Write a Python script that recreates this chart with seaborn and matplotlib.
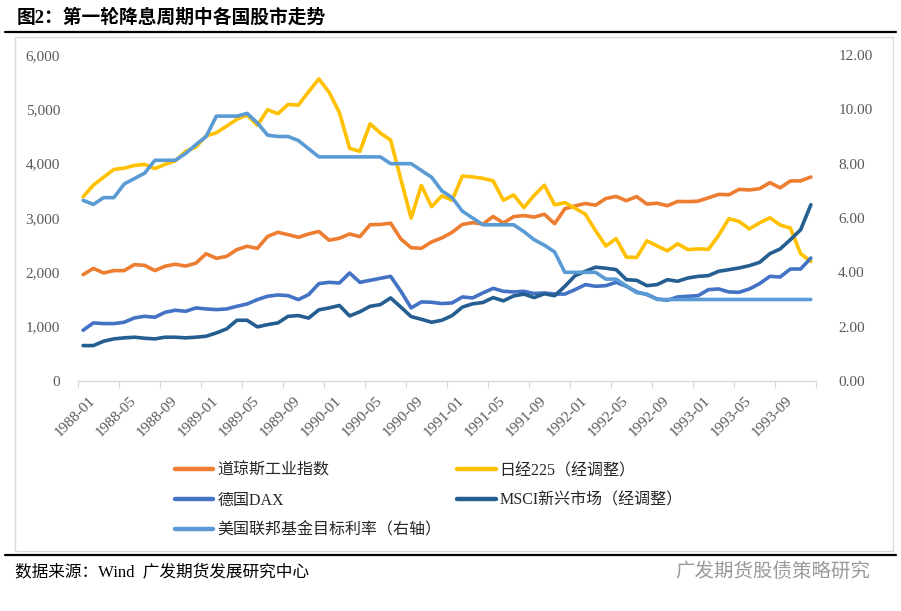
import numpy as np
import pandas as pd
import matplotlib
matplotlib.use("Agg")
import matplotlib.pyplot as plt
import matplotlib.transforms as mtransforms
from matplotlib.patches import Rectangle
from matplotlib.lines import Line2D
import seaborn as sns

sns.set_theme(style="white")
plt.rcParams['font.family'] = ['Liberation Serif', 'Noto Sans CJK SC']

# ---------------------------
# data (monthly, 1988-01 .. 1993-12)
# ---------------------------
months = pd.date_range('1988-01-01', '1993-12-01', freq='MS').strftime('%Y-%m')

dow = [1958, 2072, 1988, 2032, 2031, 2142, 2129, 2032, 2113, 2149, 2115, 2169,
       2342, 2258, 2294, 2419, 2480, 2440, 2661, 2737, 2693, 2645, 2706, 2753,
       2591, 2627, 2707, 2657, 2877, 2881, 2905, 2614, 2453, 2442, 2560, 2634,
       2736, 2882, 2914, 2888, 3028, 2907, 3025, 3044, 3017, 3069, 2895, 3169,
       3224, 3267, 3236, 3359, 3397, 3319, 3394, 3257, 3272, 3226, 3305, 3301,
       3310, 3371, 3435, 3428, 3527, 3516, 3540, 3651, 3555, 3681, 3684, 3754]

nikkei = [3390, 3606, 3751, 3894, 3917, 3967, 3987, 3909, 3989, 4051, 4226, 4308,
          4512, 4569, 4691, 4816, 4895, 4707, 4993, 4919, 5091, 5078, 5324, 5559,
          5313, 4942, 4283, 4226, 4733, 4563, 4434, 3711, 2998, 3599, 3208, 3407,
          3328, 3773, 3756, 3730, 3684, 3327, 3425, 3191, 3417, 3603, 3241, 3283,
          3180, 3070, 2764, 2484, 2621, 2279, 2273, 2580, 2486, 2395, 2526, 2418,
          2432, 2422, 2680, 2988, 2936, 2799, 2911, 3004, 2872, 2815, 2344, 2200]

dax = [934, 1069, 1057, 1057, 1081, 1161, 1191, 1173, 1265, 1302, 1283, 1345,
       1326, 1314, 1326, 1375, 1418, 1498, 1560, 1584, 1571, 1498, 1590, 1792,
       1816, 1804, 1988, 1816, 1853, 1890, 1926, 1651, 1345, 1455, 1449, 1425,
       1437, 1547, 1529, 1621, 1705, 1651, 1639, 1651, 1610, 1621, 1600, 1600,
       1682, 1774, 1743, 1755, 1816, 1743, 1640, 1590, 1510, 1486, 1547, 1559,
       1571, 1681, 1694, 1639, 1633, 1694, 1792, 1926, 1914, 2061, 2061, 2263]

msci = [652, 652, 732, 775, 794, 806, 787, 775, 806, 806, 794, 806,
        824, 885, 959, 1118, 1118, 996, 1038, 1069, 1191, 1204, 1158, 1310,
        1345, 1390, 1198, 1274, 1375, 1406, 1529, 1360, 1185, 1136, 1081, 1118,
        1204, 1360, 1420, 1445, 1535, 1475, 1565, 1600, 1535, 1605, 1570, 1743,
        1939, 2019, 2095, 2075, 2050, 1865, 1853, 1755, 1774, 1865, 1835, 1896,
        1926, 1939, 2019, 2049, 2080, 2123, 2184, 2343, 2430, 2601, 2784, 3244]

fed = [6.65, 6.5, 6.75, 6.75, 7.25, 7.45, 7.65, 8.125, 8.125, 8.125, 8.375, 8.7,
       9.0, 9.75, 9.75, 9.75, 9.85, 9.5, 9.05, 9.0, 9.0, 8.85, 8.55, 8.25,
       8.25, 8.25, 8.25, 8.25, 8.25, 8.25, 8.0, 8.0, 8.0, 7.75, 7.5, 7.0,
       6.75, 6.25, 6.0, 5.75, 5.75, 5.75, 5.75, 5.5, 5.2, 5.0, 4.75, 4.0,
       4.0, 4.0, 4.0, 3.75, 3.75, 3.5, 3.25, 3.2, 3.0, 3.0, 3.0, 3.0,
       3.0, 3.0, 3.0, 3.0, 3.0, 3.0, 3.0, 3.0, 3.0, 3.0, 3.0, 3.0]

names = ['道琼斯工业指数', '日经225（经调整）', '德国DAX', 'MSCI新兴市场（经调整）',
         '美国联邦基金目标利率（右轴）']
colors = ['#ED7D31', '#FFC000', '#4472C4', '#255E91', '#5B9BD5']

df = pd.DataFrame({'pos': np.arange(len(months)), 'dow': dow, 'nikkei': nikkei,
                   'dax': dax, 'msci': msci, 'fed': fed})

# ---------------------------
# figure
# ---------------------------
W, H = 901, 611
fig = plt.figure(figsize=(W / 100, H / 100), dpi=100)
ax = fig.add_axes([78 / W, 1 - 381 / H, 738 / W, 326 / H])
ax2 = ax.twinx()

for col, c in zip(['dow', 'nikkei', 'dax', 'msci'], colors[:4]):
    sns.lineplot(data=df, x='pos', y=col, ax=ax, color=c, lw=2.6, legend=False)
sns.lineplot(data=df, x='pos', y='fed', ax=ax2, color=colors[4], lw=2.6, legend=False)

ax.set_xlim(-0.5, len(months) - 0.5)
ax.set_ylim(0, 6000)
ax2.set_ylim(0, 12)
ax.set_xlabel('')
ax.set_ylabel('')
ax2.set_ylabel('')

lab_color = '#595959'
ax.set_yticks(range(0, 7000, 1000))
ax.set_yticklabels([f'{v:,}' for v in range(0, 7000, 1000)])
ax2.set_yticks(range(0, 14, 2))
ax2.set_yticklabels([f'{v:.2f}' for v in range(0, 14, 2)])
ax.tick_params(axis='y', length=0, pad=13, labelsize=11, labelcolor=lab_color)
ax2.tick_params(axis='y', length=0, pad=16, labelsize=11, labelcolor=lab_color)

ax.set_xticks(np.arange(0, len(months), 4))
ax.set_xticks(np.arange(-0.5, len(months), 4), minor=True)
ax.set_xticklabels(months[::4], rotation=45, ha='right', rotation_mode='anchor')
ax.tick_params(axis='x', which='major', length=0, pad=9, labelsize=11, labelcolor=lab_color)
ax.tick_params(axis='x', which='minor', length=5, width=0.8, color='#d9d9d9', direction='out')
ax.tick_params(axis='x', which='minor', bottom=True)
offset = mtransforms.ScaledTranslation(4 / 72, 0, fig.dpi_scale_trans)
for t in ax.get_xticklabels():
    t.set_transform(t.get_transform() + offset)

for a in (ax, ax2):
    for s in a.spines.values():
        s.set_visible(False)
ax.spines['bottom'].set_visible(True)
ax.spines['bottom'].set_color('#d9d9d9')
ax.spines['bottom'].set_linewidth(1)
ax.grid(False)
ax2.grid(False)

# legend: column 1 = Dow, DAX, Fed ; column 2 = Nikkei, MSCI
handles = [Line2D([], [], color=c, lw=3.2) for c in colors]
order = [0, 2, 4, 1, 3]
fig.legend([handles[i] for i in order], [names[i] for i in order],
           loc='upper left', bbox_to_anchor=(175 / W, 1 - 463 / H), ncol=2,
           frameon=False, fontsize=11.5, handlelength=2.4, handletextpad=0.25,
           columnspacing=1.0, labelspacing=0.85, borderpad=0, borderaxespad=0)

# title, rules, frame, source
fig.text(17 / W, 1 - 18 / H, '图2：第一轮降息周期中各国股市走势', fontsize=13.5,
         fontweight='bold', ha='left', va='center', color='black')
fig.add_artist(Line2D([5 / W, 896 / W], [1 - 32 / H] * 2, color='black', lw=1.6))
fig.add_artist(Rectangle((15 / W, 1 - 551 / H), 878 / W, 514 / H, fill=False,
                         edgecolor='#d9d9d9', lw=1, transform=fig.transFigure))
fig.add_artist(Line2D([5 / W, 896 / W], [1 - 555 / H] * 2, color='black', lw=1.6))
fig.text(15 / W, 1 - 572 / H, '数据来源：Wind  广发期货发展研究中心', fontsize=12,
         ha='left', va='center', color='black')
fig.text(870 / W, 1 - 572 / H, '广发期货股债策略研究', fontsize=14,
         ha='right', va='center', color='#9a9a9a')

fig.savefig('out.png', dpi=100)
